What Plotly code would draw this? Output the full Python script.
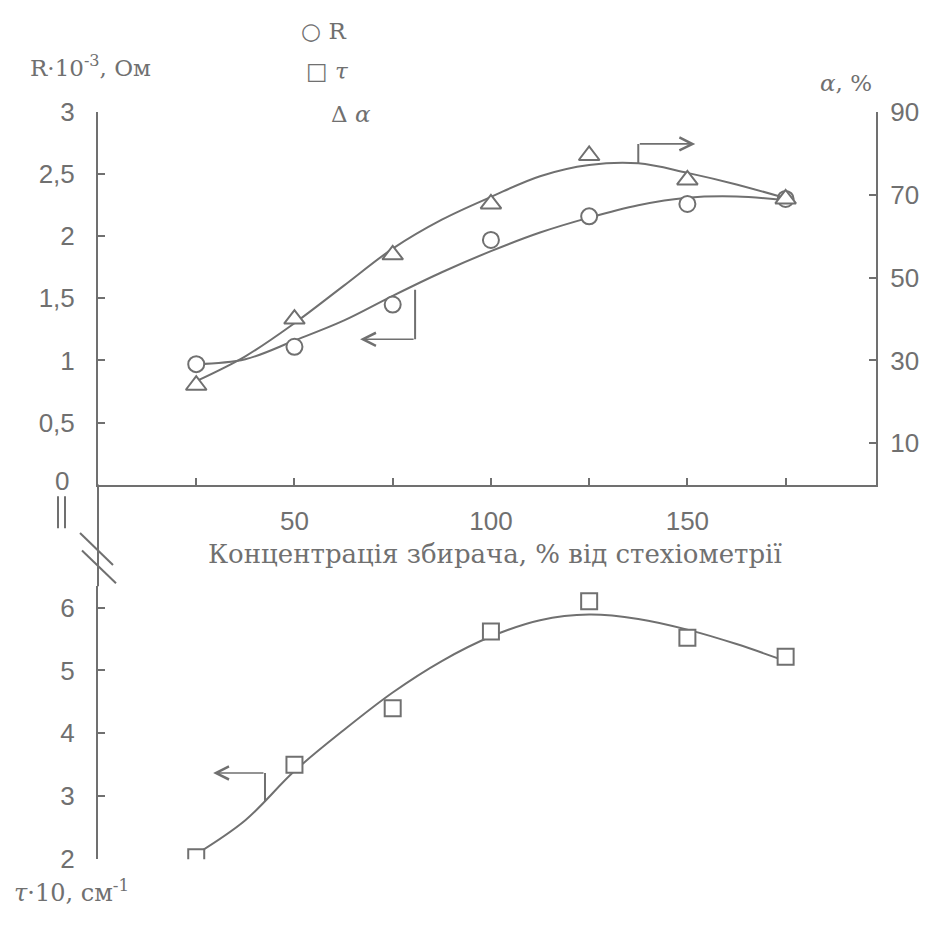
import plotly.graph_objects as go

# ---------------- data ----------------
conc = [25, 50, 75, 100, 125, 150, 175]                 # % of stoichiometry
R_vals = [0.97, 1.11, 1.45, 1.97, 2.16, 2.26, 2.30]      # R*10^-3, Ohm
alpha_vals = [24, 40, 55.5, 67.8, 79.5, 73.6, 69]        # alpha, %
tau_vals = [2.03, 3.5, 4.4, 5.62, 6.1, 5.52, 5.22]       # tau*10, cm^-1

# smooth trend curves
curve_x = [25, 37.5, 50, 62.5, 75, 87.5, 100, 112.5, 125, 137.5, 150, 162.5, 175]
R_curve = [0.97, 1.01, 1.16, 1.32, 1.52, 1.71, 1.88, 2.03, 2.15, 2.25, 2.31, 2.32, 2.29]
alpha_curve = [25, 31, 39, 48, 57, 64, 69.5, 74.5, 77.2, 77.6, 75.3, 72.5, 69.2]
tau_curve = [2.08, 2.62, 3.4, 4.05, 4.65, 5.15, 5.54, 5.8, 5.89, 5.82, 5.65, 5.42, 5.15]

# axis-pointer arrows (x, y of: start on curve, corner, arrow tip)
alpha_arrow_x = [137.5, 137.5, 152]
alpha_arrow_y = [77.6, 82.3, 82.3]
R_arrow_x = [80.7, 80.7, 66.7]
R_arrow_y = [1.57, 1.17, 1.17]
tau_arrow_x = [42.5, 42.5, 29.3]
tau_arrow_y = [2.91, 3.37, 3.37]

x_ticks = [25, 50, 75, 100, 125, 150, 175]
x_ticktext = ["", "50", "", "100", "", "150", ""]
R_ticks = [0, 0.5, 1, 1.5, 2, 2.5, 3]
R_ticktext = ["", "0,5", "1", "1,5", "2", "2,5", "3"]
alpha_ticks = [10, 30, 50, 70, 90]
tau_ticks = [2, 3, 4, 5, 6]

# ---------------- styling ----------------
GREY = "#707070"
W, H = 933, 930
OFF = 8  # default body margin of the html page
SANS = "Liberation Sans, Arial, sans-serif"
SERIF = "DejaVu Serif, Liberation Serif, serif"


def px(x):
    return (x - OFF) / W


def py(y):
    return 1 - (y - OFF) / H


fig = go.Figure()

line_style = dict(color=GREY, width=2)

# curves
fig.add_trace(go.Scatter(x=curve_x, y=R_curve, mode="lines", line=dict(**line_style, shape="spline"),
                         xaxis="x", yaxis="y", showlegend=False, hoverinfo="skip"))
fig.add_trace(go.Scatter(x=curve_x, y=alpha_curve, mode="lines", line=dict(**line_style, shape="spline"),
                         xaxis="x", yaxis="y3", showlegend=False, hoverinfo="skip"))
fig.add_trace(go.Scatter(x=curve_x, y=tau_curve, mode="lines", line=dict(**line_style, shape="spline"),
                         xaxis="x2", yaxis="y2", showlegend=False, hoverinfo="skip"))

# markers
mk = dict(color="white", line=dict(color=GREY, width=2))
fig.add_trace(go.Scatter(x=conc, y=R_vals, mode="markers", name="R",
                         marker=dict(symbol="circle", size=16, **mk),
                         xaxis="x", yaxis="y", showlegend=False))
fig.add_trace(go.Scatter(x=conc, y=alpha_vals, mode="markers", name="α",
                         marker=dict(symbol="triangle-up", size=18, **mk),
                         xaxis="x", yaxis="y3", showlegend=False))
fig.add_trace(go.Scatter(x=conc, y=tau_vals, mode="markers", name="τ",
                         marker=dict(symbol="square", size=16, **mk),
                         xaxis="x2", yaxis="y2", showlegend=False))

# arrow vertical parts
fig.add_trace(go.Scatter(x=alpha_arrow_x[:2], y=alpha_arrow_y[:2], mode="lines", line=line_style,
                         xaxis="x", yaxis="y3", showlegend=False, hoverinfo="skip"))
fig.add_trace(go.Scatter(x=R_arrow_x[:2], y=R_arrow_y[:2], mode="lines", line=line_style,
                         xaxis="x", yaxis="y", showlegend=False, hoverinfo="skip"))
fig.add_trace(go.Scatter(x=tau_arrow_x[:2], y=tau_arrow_y[:2], mode="lines", line=line_style,
                         xaxis="x2", yaxis="y2", showlegend=False, hoverinfo="skip"))

annotations = []
for ax_x, ax_y, xr, yr in [(alpha_arrow_x, alpha_arrow_y, "x", "y3"),
                           (R_arrow_x, R_arrow_y, "x", "y"),
                           (tau_arrow_x, tau_arrow_y, "x2", "y2")]:
    annotations.append(dict(x=ax_x[2], y=ax_y[2], ax=ax_x[1], ay=ax_y[1], xref=xr, yref=yr,
                            axref=xr, ayref=yr, text="", showarrow=True, arrowhead=5,
                            arrowsize=1.6, arrowwidth=1.6, arrowcolor=GREY))

tickfont = dict(family=SANS, size=26, color=GREY)
axis_common = dict(showgrid=False, zeroline=False, showline=True, linecolor=GREY, linewidth=2,
                   ticks="inside", tickcolor=GREY, tickwidth=2, ticklen=7, tickfont=tickfont)

fig.update_layout(
    width=W, height=H,
    margin=dict(l=0, r=0, t=0, b=0),
    paper_bgcolor="white", plot_bgcolor="white",
    showlegend=False,
    xaxis=dict(domain=[px(98), px(876)], range=[0, 198], anchor="y",
               tickvals=x_ticks, ticktext=x_ticktext, ticklabelstandoff=12, **axis_common),
    yaxis=dict(domain=[py(485), py(100)], range=[0, 3], anchor="x",
               tickvals=R_ticks, ticktext=R_ticktext, ticklabelstandoff=16, **axis_common),
    yaxis3=dict(overlaying="y", side="right", anchor="x", range=[0, 90],
                tickvals=alpha_ticks, ticklabelstandoff=7, **axis_common),
    xaxis2=dict(domain=[px(98), px(876)], range=[0, 198], anchor="y2", visible=False),
    yaxis2=dict(domain=[py(872), py(590)], range=[2, 6.34], anchor="x2",
                tickvals=tau_ticks, ticklabelstandoff=16, **axis_common),
)


def txt(s, x, y, size=24, xanchor="center", family=SERIF):
    return dict(text=s, x=px(x), y=py(y), xref="paper", yref="paper", showarrow=False,
                xanchor=xanchor, yanchor="middle", font=dict(family=family, size=size, color=GREY))


annotations += [
    txt("R·10<sup>-3</sup>, Ом", 90, 52, 23),
    txt("<i>α</i>, %", 846, 70, 23),
    txt("Концентрація збирача, % від стехіометрії", 495, 557, 26),
    txt("<i>τ</i>·10, см<sup>-1</sup>", 12, 905, 24, "left"),
    txt("○ R", 323, 16, 23),
    txt("□ <i>τ</i>", 327, 58, 23),
    txt("Δ <i>α</i>", 351, 102, 23),
    txt("0", 62, 481, 26, family=SANS),
]
fig.update_layout(annotations=annotations)

# axis break decorations (paper coordinates)
brk = dict(color=GREY, width=2)
shapes = [
    dict(type="line", xref="paper", yref="paper", x0=px(98), x1=px(98), y0=py(485), y1=py(590), line=brk),
    dict(type="line", xref="paper", yref="paper", x0=px(58), x1=px(58), y0=py(497), y1=py(530), line=brk),
    dict(type="line", xref="paper", yref="paper", x0=px(65), x1=px(65), y0=py(497), y1=py(530), line=brk),
    dict(type="line", xref="paper", yref="paper", x0=px(80), x1=px(113), y0=py(535), y1=py(568), line=brk),
    dict(type="line", xref="paper", yref="paper", x0=px(82), x1=px(116), y0=py(553), y1=py(587), line=brk),
]
fig.update_layout(shapes=shapes)

fig.write_html("out.html")
